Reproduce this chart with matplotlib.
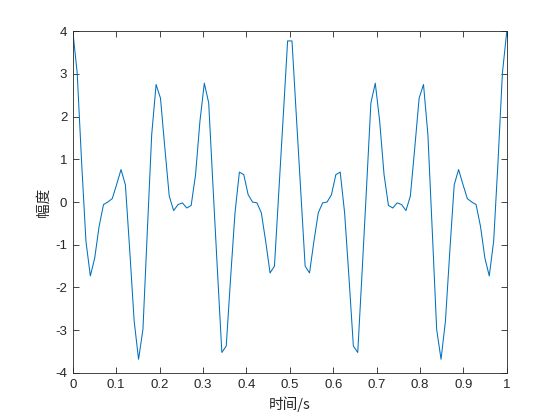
import numpy as np
import matplotlib
matplotlib.use("Agg")
import matplotlib.pyplot as plt

plt.rcParams['font.family'] = ['Liberation Sans', 'DejaVu Sans']
plt.rcParams['axes.unicode_minus'] = False

# 100 samples on [0, 1]
t = np.linspace(0, 1, 100)
amp = [4.0, 3.02, 0.95, -0.92, -1.73, -1.31, -0.57, -0.06, 0.0, 0.08,
       0.41, 0.76, 0.4, -1.15, -2.79, -3.68, -2.98, -0.68, 1.58, 2.75,
       2.43, 1.26, 0.14, -0.2, -0.06, -0.02, -0.14, -0.08, 0.64, 1.89,
       2.78, 2.32, 0.33, -1.62, -3.52, -3.37, -1.77, -0.25, 0.7, 0.64,
       0.17, 0.0, -0.02, -0.25, -0.92, -1.66, -1.5, 0.25, 2.0, 3.77,
       3.77, 2.0, 0.25, -1.5, -1.66, -0.92, -0.25, -0.02, 0.0, 0.17,
       0.64, 0.7, -0.25, -1.77, -3.37, -3.52, -1.62, 0.33, 2.32, 2.78,
       1.89, 0.64, -0.08, -0.14, -0.02, -0.06, -0.2, 0.14, 1.26, 2.43,
       2.75, 1.58, -0.68, -2.98, -3.68, -2.79, -1.15, 0.4, 0.76, 0.41,
       0.08, 0.0, -0.06, -0.57, -1.31, -1.73, -0.92, 0.95, 3.02, 4.0]
xticks = [0, 0.1, 0.2, 0.3, 0.4, 0.5, 0.6, 0.7, 0.8, 0.9, 1]
xticklabels = ['0', '0.1', '0.2', '0.3', '0.4', '0.5', '0.6', '0.7', '0.8', '0.9', '1']
yticks = [-4, -3, -2, -1, 0, 1, 2, 3, 4]

fig = plt.figure(figsize=(5.6, 4.2), dpi=100)
ax = fig.add_axes([0.13, 0.112, 0.775, 0.814])
ax.plot(t, amp, color='#0072BD', linewidth=0.75)

ax.set_xlim(0, 1)
ax.set_ylim(-4, 4)
ax.set_xticks(xticks)
ax.set_xticklabels(xticklabels)
ax.set_yticks(yticks)
ax.tick_params(direction='in', top=True, right=True, length=4, width=0.6,
               colors='#262626', labelsize=9.5, pad=4)
for s in ax.spines.values():
    s.set_linewidth(0.6)
    s.set_color('#262626')

cjk = ['Noto Sans CJK SC', 'DejaVu Sans']
ax.set_xlabel('时间/s', family=cjk, fontsize=10.5, color='#262626', labelpad=4)
ax.set_ylabel('幅度', family=cjk, fontsize=10.5, color='#262626', labelpad=3)

fig.savefig('out.png', dpi=100)
